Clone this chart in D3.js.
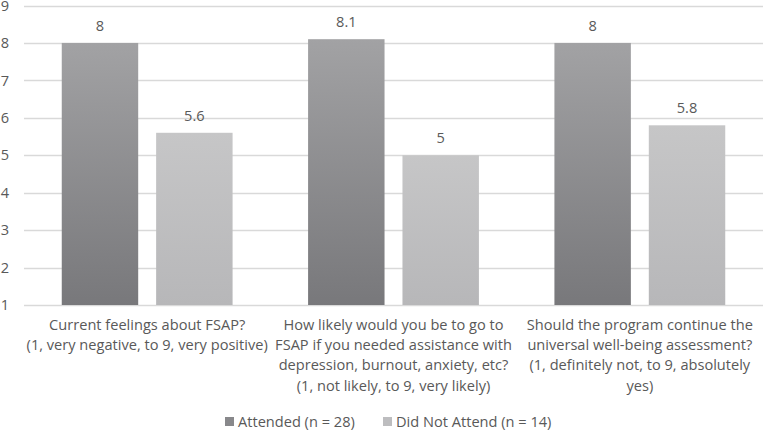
<!DOCTYPE html>
<html>
<head>
<meta charset="utf-8">
<script src="https://cdn.jsdelivr.net/npm/d3@7"></script>
<style>
  body { margin: 0; background: #fff; }
  svg text { font-family: "Open Sans", Lato, sans-serif; fill: #595959; }
</style>
</head>
<body>
<div id="chart"></div>
<script>
// Data
const categories = ["feelings", "likely", "continue"];
const categoryLabels = [
    ["Current feelings about FSAP?", "(1, very negative, to 9, very positive)"],
    ["How likely would you be to go to", "FSAP if you needed assistance with", "depression, burnout, anxiety, etc?", "(1, not likely, to 9, very likely)"],
    ["Should the program continue the", "universal well-being assessment?", "(1, definitely not, to 9, absolutely", "yes)"]
];
const seriesNames = ["Attended (n = 28)", "Did Not Attend (n = 14)"];
const attended = [8, 8.1, 8];
const didNotAttend = [5.6, 5, 5.8];
const yTicks = [1, 2, 3, 4, 5, 6, 7, 8, 9];

const WIDTH = 763;
const HEIGHT = 430;
const PLOT_LEFT = 24;
const PLOT_RIGHT = 763;
const PLOT_TOP = 5.5;
const PLOT_BOTTOM = 305;
const FONT_SIZE = 14.6;

const svg = d3.select("#chart")
    .append("svg")
    .attr("width", WIDTH)
    .attr("height", HEIGHT);

// Gradients for bars
const defs = svg.append("defs");
const gradients = [
    { id: "gradAttended", top: "#a2a2a4", bottom: "#78787b" },
    { id: "gradNot", top: "#c6c6c7", bottom: "#b7b7b9" }
];
gradients.forEach(g => {
    const lg = defs.append("linearGradient")
        .attr("id", g.id)
        .attr("x1", 0).attr("y1", 0)
        .attr("x2", 0).attr("y2", 1);
    lg.append("stop").attr("offset", "0%").attr("stop-color", g.top);
    lg.append("stop").attr("offset", "100%").attr("stop-color", g.bottom);
});

const x = d3.scaleBand()
    .domain(categories)
    .range([PLOT_LEFT, PLOT_RIGHT]);

const xSeries = d3.scaleBand()
    .domain(seriesNames)
    .range([0, x.bandwidth()])
    .paddingInner(0.19)
    .paddingOuter(0.4);

const y = d3.scaleLinear()
    .domain([1, 9])
    .range([PLOT_BOTTOM, PLOT_TOP]);

// Gridlines
svg.append("g")
    .selectAll("line")
    .data(yTicks)
    .join("line")
    .attr("x1", PLOT_LEFT)
    .attr("x2", PLOT_RIGHT)
    .attr("y1", d => Math.round(y(d)) + 0.5)
    .attr("y2", d => Math.round(y(d)) + 0.5)
    .attr("stroke", "#d9d9d9")
    .attr("stroke-width", 1.3);

// Y axis labels
const yAxis = svg.append("g")
    .attr("transform", `translate(${PLOT_LEFT - 15},0)`)
    .call(d3.axisLeft(y).tickValues(yTicks).tickSize(0).tickPadding(0).tickFormat(d3.format("d")));
yAxis.select(".domain").remove();
yAxis.selectAll("text")
    .attr("font-size", FONT_SIZE)
    .style("font-family", "'Open Sans', Lato, sans-serif")
    .attr("fill", "#595959");

// Bars
const rows = categories.map((c, i) => ({ cat: c, values: [attended[i], didNotAttend[i]] }));
const fills = ["url(#gradAttended)", "url(#gradNot)"];

const groups = svg.append("g")
    .selectAll("g")
    .data(rows)
    .join("g")
    .attr("transform", d => `translate(${x(d.cat)},0)`);

groups.selectAll("rect")
    .data(d => d.values.map((v, j) => ({ name: seriesNames[j], value: v, j })))
    .join("rect")
    .attr("x", d => xSeries(d.name))
    .attr("width", xSeries.bandwidth())
    .attr("y", d => y(d.value))
    .attr("height", d => y(1) - y(d.value))
    .attr("fill", d => fills[d.j]);

groups.selectAll("text.val")
    .data(d => d.values.map((v, j) => ({ name: seriesNames[j], value: v })))
    .join("text")
    .attr("class", "val")
    .attr("x", d => xSeries(d.name) + xSeries.bandwidth() / 2)
    .attr("y", d => y(d.value) - 12)
    .attr("text-anchor", "middle")
    .attr("font-size", FONT_SIZE)
    .text(d => d.value);

// Category labels
categories.forEach((c, i) => {
    const t = svg.append("text")
        .attr("text-anchor", "middle")
        .attr("font-size", FONT_SIZE);
    categoryLabels[i].forEach((line, k) => {
        t.append("tspan")
            .attr("x", x(c) + x.bandwidth() / 2)
            .attr("y", 330 + k * 20.2)
            .text(line);
    });
});

// Legend
const legendX = [225, 383];
const legend = svg.append("g")
    .selectAll("g")
    .data(seriesNames)
    .join("g")
    .attr("transform", (d, i) => `translate(${legendX[i]},417)`);
legend.append("rect")
    .attr("width", 9)
    .attr("height", 9)
    .attr("fill", (d, i) => i === 0 ? "#88888b" : "#bdbdbf");
legend.append("text")
    .attr("x", 13)
    .attr("y", 9.5)
    .attr("font-size", FONT_SIZE)
    .text(d => d);
</script>
</body>
</html>
